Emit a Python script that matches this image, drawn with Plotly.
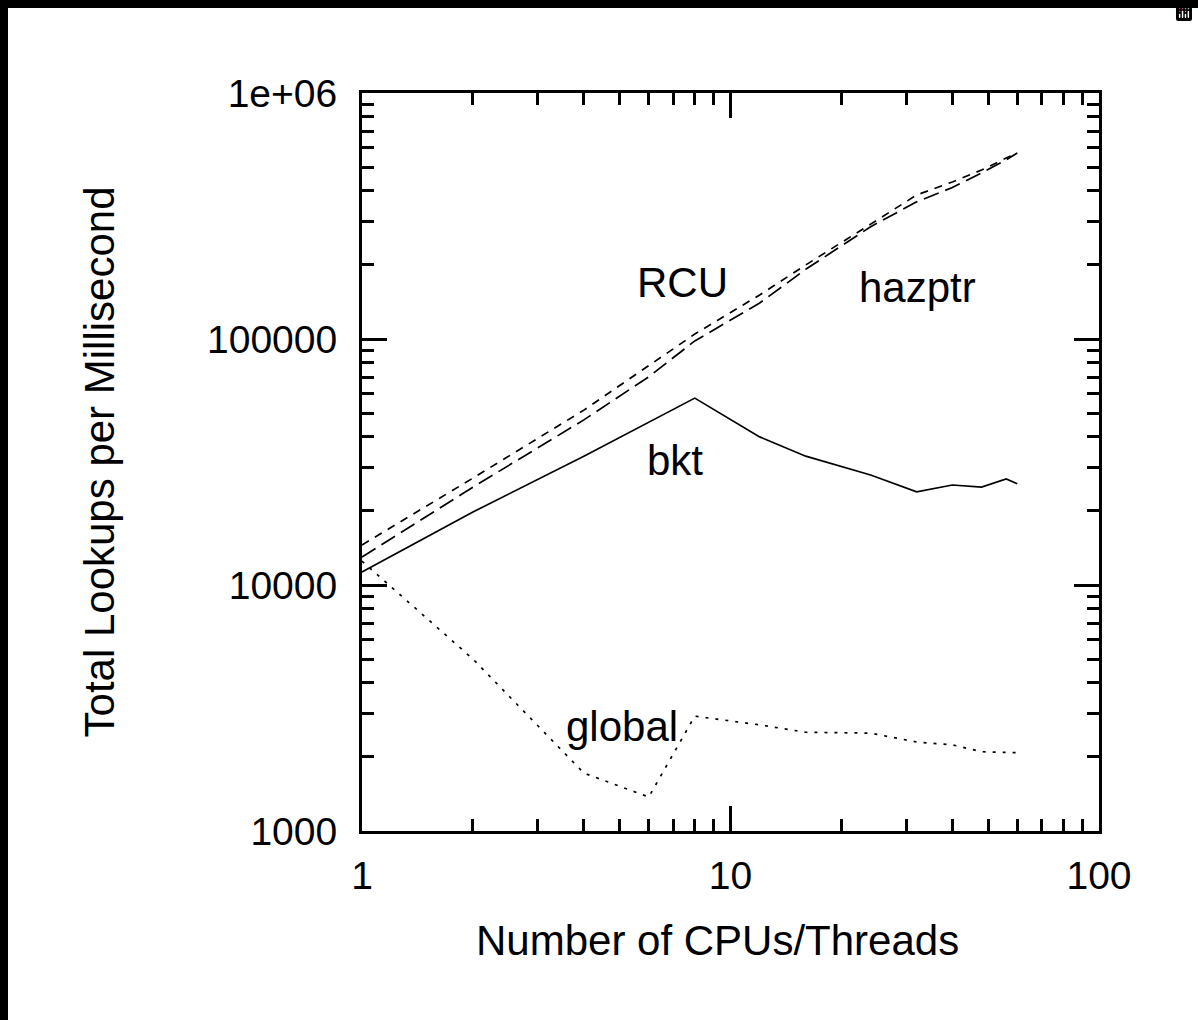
import math
import plotly.graph_objects as go

# ---- data ----
threads = [1, 2, 4, 6, 8, 12, 16, 24, 32, 40, 48, 56, 60]
rcu = [14550, 27200, 51400, 78000, 104700, 151000, 200000, 293000, 385000, 435000, 486000, 544000, 570000]
hazptr = [13000, 25000, 46900, 70200, 98200, 140000, 192000, 286000, 361000, 413000, 473000, 535000, 570000]
bkt = [11300, 19800, 33400, 46000, 57500, 40000, 33400, 28000, 23900, 25500, 25000, 27000, 25800]
global_lock = [12500, 5000, 1720, 1375, 2930, 2700, 2520, 2500, 2300, 2240, 2100, 2080, 2080]

x_ticks = [1, 10, 100]
x_ticktext = ["1", "10", "100"]
y_ticks = [1000, 10000, 100000, 1000000]
y_ticktext = ["1000", "10000", "100000", "1e+06"]
x_minor = [2, 3, 4, 5, 6, 7, 8, 9, 20, 30, 40, 50, 60, 70, 80, 90]
y_minor = [m * d for d in (1000, 10000, 100000) for m in range(2, 10)]

labels = ["RCU", "hazptr", "bkt", "global"]
label_x = [7.43, 32.1, 7.07, 5.08]
label_y = [169000, 162600, 32200, 2650]

x_title = "Number of CPUs/Threads"
y_title = "Total Lookups per Millisecond"

FONT = "Liberation Sans, Arial, Helvetica, sans-serif"
W, H = 1198, 1020
L, R, T, B = 362, 99, 93, 189
EDGE = 8  # black frame strip along the top and left edges

fig = go.Figure()
series = [
    ("RCU", rcu, "8px,7px"),
    ("hazptr", hazptr, "16px,7px"),
    ("bkt", bkt, "solid"),
    ("global", global_lock, "3px,7px"),
]
for name, ys, dash in series:
    fig.add_trace(go.Scatter(x=threads, y=ys, mode="lines", name=name,
                             line=dict(color="black", width=1.7, dash=dash)))

for t, ax, ay in zip(labels, label_x, label_y):
    fig.add_annotation(x=math.log10(ax), y=math.log10(ay), xref="x", yref="y", text=t,
                       showarrow=False, font=dict(family=FONT, size=42, color="black"))

# x axis title, placed slightly left of centre as in the reference
fig.add_annotation(x=0.482, y=-0.148, xref="paper", yref="paper", text=x_title, showarrow=False,
                   xanchor="center", yanchor="middle", font=dict(family=FONT, size=42, color="black"))

axis_common = dict(
    showgrid=False, zeroline=False, showline=True, linecolor="black", linewidth=3,
    mirror="allticks", ticks="inside", ticklen=25, tickwidth=3, tickcolor="black",
    tickfont=dict(family=FONT, size=39, color="black"),
)
fig.update_xaxes(type="log", range=[0, 2], tickmode="array", tickvals=x_ticks, ticktext=x_ticktext,
                 ticklabelstandoff=8,
                 minor=dict(ticks="inside", ticklen=12, tickwidth=3, tickcolor="black", tickvals=x_minor),
                 **axis_common)
fig.update_yaxes(type="log", range=[3, 6], tickmode="array", tickvals=y_ticks, ticktext=y_ticktext,
                 ticklabelstandoff=14,
                 minor=dict(ticks="inside", ticklen=12, tickwidth=3, tickcolor="black", tickvals=y_minor),
                 title=dict(text=y_title, font=dict(family=FONT, size=42, color="black"),
                            standoff=80),
                 **axis_common)

pw, ph = W - L - R, H - T - B
fig.add_shape(type="rect", xref="paper", yref="paper", x0=-L / pw, x1=(W - L) / pw,
              y0=1 + (T - EDGE) / ph, y1=1 + T / ph, fillcolor="black", line_width=0, layer="below")
fig.add_shape(type="rect", xref="paper", yref="paper", x0=-L / pw, x1=(EDGE - L) / pw,
              y0=-B / ph, y1=1 + T / ph, fillcolor="black", line_width=0, layer="below")

fig.update_layout(
    width=W, height=H, margin=dict(l=L, r=R, t=T, b=B, autoexpand=False),
    paper_bgcolor="white", plot_bgcolor="white", showlegend=False,
    font=dict(family=FONT, color="black"),
    modebar=dict(bgcolor="rgba(0,0,0,0)", color="rgba(0,0,0,0)", activecolor="rgba(0,0,0,0)"),
)
# place the figure at the page origin (no default body margin)
fig.write_html("out.html", post_script="document.body.style.margin='0';")
